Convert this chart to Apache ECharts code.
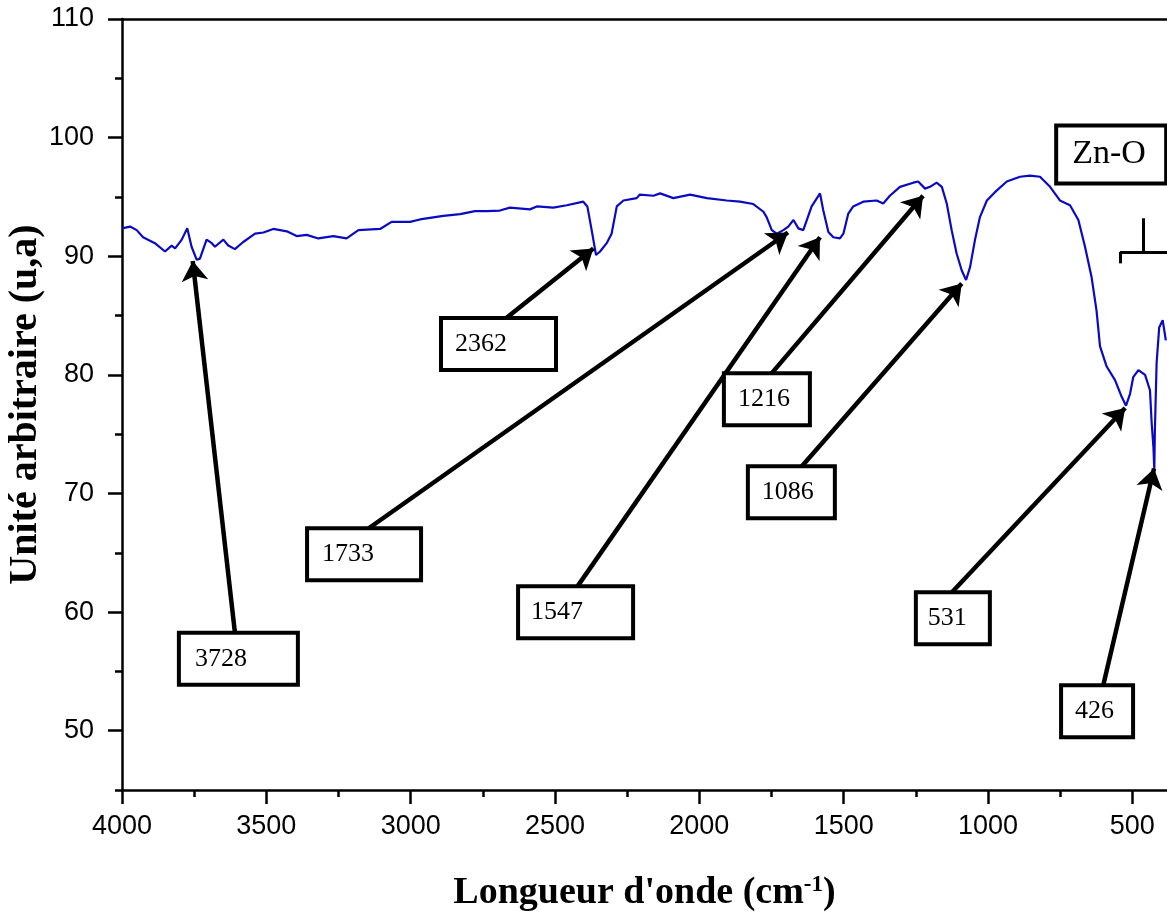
<!DOCTYPE html>
<html><head><meta charset="utf-8">
<script src="https://cdn.jsdelivr.net/npm/echarts@6/dist/echarts.min.js"></script>
<style>html,body{margin:0;padding:0;background:#fff}#c{width:1167px;height:915px}</style>
</head><body><div id="c"></div><script>
// ---- spectrum data (wavenumber cm-1, value u.a.) ----
const wavenumbers = [4000,3972,3949,3927,3886,3851,3828,3816,3793,3774,
3759,3741,3730,3707,3689,3678,3649,3632,3609,3580,
3539,3510,3476,3429,3395,3360,3320,3268,3222,3181,
3106,3066,3002,2968,2887,2829,2777,2737,2691,2656,
2587,2563,2506,2459,2402,2388,2373,2358,2344,2321,
2304,2286,2263,2217,2206,2159,2136,2090,2032,1974,
1905,1859,1813,1778,1767,1749,1732,1709,1692,1674,
1657,1640,1611,1582,1571,1553,1536,1513,1501,1484,
1467,1432,1386,1363,1340,1305,1259,1242,1218,1201,
1178,1160,1143,1126,1109,1091,1076,1062,1045,1028,
1004,976,935,889,855,820,785,751,716,687,
664,641,624,612,589,560,537,522,508,497,
479,456,439,433,427,424,422,416,407,395,384];
const values = [92.35,92.5,92.2,91.6,91.1,90.4,90.9,90.66,91.4,92.35,
90.8,89.7,89.8,91.4,91.1,90.8,91.4,90.9,90.6,91.2,
91.9,92.0,92.3,92.1,91.7,91.8,91.5,91.7,91.5,92.2,
92.3,92.9,92.9,93.1,93.4,93.55,93.8,93.8,93.85,94.1,
93.95,94.2,94.1,94.3,94.6,94.2,92.2,90.1,90.4,91.1,
91.9,94.2,94.7,94.9,95.2,95.1,95.3,94.9,95.2,94.9,
94.7,94.6,94.4,93.75,93.3,92.2,91.9,92.2,92.5,93.05,
92.35,92.2,94.2,95.3,93.9,92.05,91.6,91.5,91.9,93.6,
94.2,94.6,94.7,94.45,95.1,95.85,96.2,96.3,95.7,95.85,
96.2,95.85,94.45,92.2,90.25,88.8,88.0,89.1,91.4,93.3,
94.7,95.4,96.3,96.7,96.8,96.7,95.85,94.7,94.3,93.05,
90.8,88.2,85.4,82.4,80.7,79.55,78.15,77.4,78.4,79.8,
80.4,80.0,78.7,75.9,73.9,72.0,75.3,81.0,84.0,84.6,82.9];

// ---- axis ticks ----
const xMajorTicks = [4000,3500,3000,2500,2000,1500,1000,500];
const xMinorTicks = [3750,3250,2750,2250,1750,1250,750];
const yMajorTicks = [50,60,70,80,90,100,110];
const yMinorTicks = [45,55,65,75,85,95,105];

// ---- peak annotations (data coordinates) ----
const peakLabels = ['3728','2362','1733','1547','1216','1086','531','426'];
const peakTipX   = [3755, 2367, 1693, 1582, 1225, 1091, 525, 425];
const peakTipY   = [89.6, 90.66, 92.0, 91.6, 95.1, 87.7, 77.2, 72.1];
const arrowFromX = [3609, 2673, 3155, 2427, 1752, 1651, 1125, 602];
const arrowFromY = [58.3, 84.7, 66.9, 62.0, 80.06, 72.13, 61.67, 53.7];
const boxLeftX   = [3796, 2888, 3352, 2621, 1908, 1825, 1243, 740];
const boxMidY    = [56.07, 82.59, 64.88, 59.99, 77.95, 70.11, 59.48, 51.64];
const boxWidth   = [119, 115, 114, 115, 86, 87, 74, 72];
const boxPadLeft = [14, 12, 13, 11, 12, 12, 10, 12];

const groupLabel = 'Zn-O';
const groupBoxX = 757, groupBoxY = 98.57;
// brace under Zn-O (data coords)
const braceStem = [[463, 93.2],[463, 90.35]];
const braceBar  = [[543, 90.35],[380, 90.35]];
const braceCurl = [[543, 90.35],[543, 89.4]];

const spectrum = wavenumbers.map((w,i)=>[w, values[i]]);

const chart = echarts.init(document.getElementById('c'), null, {renderer:'canvas'});
const AX = '#000';
const tickFont = {fontFamily:'Liberation Sans', fontSize:27, color:'#000'};

function boxLabel(text, padL, w, fs){
  return {show:true, formatter:text, position:'inside', align:'left', verticalAlign:'middle',
    fontFamily:'Liberation Serif', fontSize:fs, lineHeight:fs, color:'#000', opacity:1,
    textBorderWidth:0, textShadowBlur:0,
    backgroundColor:'#fff', borderColor:'#000', borderWidth:4,
    padding:[11,0,11,padL], width: w-4-padL};
}
const annData = peakLabels.map((t,i)=>({
  value:[boxLeftX[i], boxMidY[i]],
  label:boxLabel(t, boxPadLeft[i], boxWidth[i], 26)
}));
annData.push({value:[groupBoxX, groupBoxY], label:Object.assign(boxLabel(groupLabel, 14, 110, 34), {padding:[10,0,10,14]})});

const arrows = peakLabels.map((t,i)=>[{coord:[arrowFromX[i], arrowFromY[i]]},{coord:[peakTipX[i], peakTipY[i]]}]);
const brace = [braceStem, braceBar, braceCurl].map(s=>[{coord:s[0]},{coord:s[1]}]);

const xBase = {type:'value', inverse:true, min:380, max:4000, splitLine:{show:false}};
const yBase = {type:'value', min:45, max:110, splitLine:{show:false}};

chart.setOption({
  animation:false,
  backgroundColor:'#fff',
  grid:{left:122, right:0, top:19, bottom:125, containLabel:false, outerBoundsMode:'none'},
  xAxis:[
    Object.assign({}, xBase, {position:'bottom',
      axisLine:{show:true, lineStyle:{color:AX, width:2.5}},
      axisTick:{show:true, customValues:xMajorTicks, length:14, lineStyle:{color:AX, width:2.5}},
      axisLabel:Object.assign({show:true, customValues:xMajorTicks, margin:23, formatter:v=>String(v)}, tickFont),
      name:"Longueur d'onde (cm{sup|-1})", nameLocation:'middle', nameGap:84, nameMoveOverlap:false,
      nameTextStyle:{fontFamily:'Liberation Serif', fontWeight:'bold', fontSize:38, color:'#000',
        rich:{sup:{fontFamily:'Liberation Serif', fontWeight:'bold', fontSize:23, verticalAlign:'top', lineHeight:18, color:'#000'}}}
    }),
    Object.assign({}, xBase, {position:'bottom',
      axisLine:{show:false},
      axisTick:{show:true, customValues:xMinorTicks, length:7, lineStyle:{color:AX, width:2.5}},
      axisLabel:{show:false}}),
    Object.assign({}, xBase, {position:'top',
      axisLine:{show:true, lineStyle:{color:AX, width:2.5}},
      axisTick:{show:false}, axisLabel:{show:false}})
  ],
  yAxis:[
    Object.assign({}, yBase, {position:'left',
      axisLine:{show:true, lineStyle:{color:AX, width:2.5}},
      axisTick:{show:true, customValues:yMajorTicks, length:14, lineStyle:{color:AX, width:2.5}},
      axisLabel:Object.assign({show:true, customValues:yMajorTicks, margin:28}, tickFont),
      name:'Unité arbitraire (u,a)', nameLocation:'middle', nameGap:76, nameRotate:90, nameMoveOverlap:false,
      nameTextStyle:{fontFamily:'Liberation Serif', fontWeight:'bold', fontSize:40, color:'#000'}
    }),
    Object.assign({}, yBase, {position:'left',
      axisLine:{show:false},
      axisTick:{show:true, customValues:yMinorTicks, length:7, lineStyle:{color:AX, width:2.5}},
      axisLabel:{show:false}})
  ],
  series:[
    {type:'line', name:'spectre', data:spectrum, xAxisIndex:0, yAxisIndex:0,
     showSymbol:false, symbol:'none', smooth:false,
     lineStyle:{color:'#0a0ac2', width:2.2}, z:3},
    {type:'line', data:[], xAxisIndex:0, yAxisIndex:0, z:4,
     markLine:{silent:true, animation:false, symbol:['none','arrow'], symbolSize:20,
       label:{show:false}, lineStyle:{color:'#000', width:4.5, type:'solid', opacity:1},
       emphasis:{disabled:true}, data:arrows}},
    {type:'line', data:[], xAxisIndex:0, yAxisIndex:0, z:4,
     markLine:{silent:true, animation:false, symbol:['none','none'],
       label:{show:false}, lineStyle:{color:'#000', width:3, type:'solid', opacity:1},
       emphasis:{disabled:true}, data:brace}},
    {type:'scatter', data:annData, xAxisIndex:0, yAxisIndex:0, symbolSize:1,
     itemStyle:{color:'rgba(0,0,0,0)', opacity:1}, z:10, silent:true,
     emphasis:{disabled:true}}
  ]
});
</script></body></html>
